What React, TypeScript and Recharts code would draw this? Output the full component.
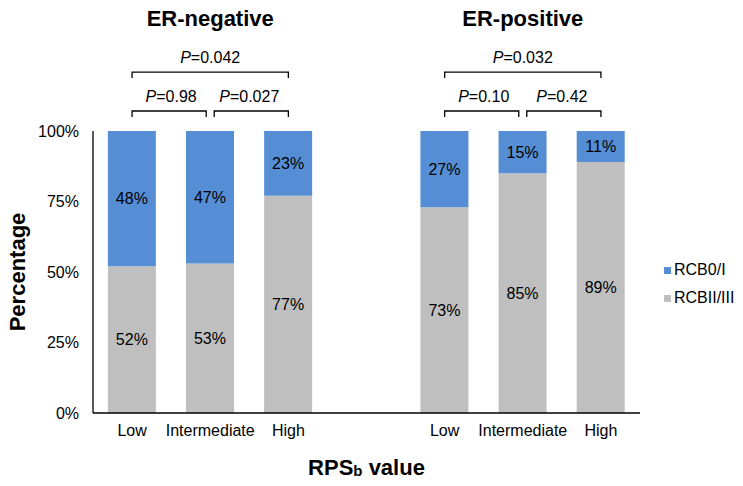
import React from 'react';
import { BarChart, Bar, XAxis, YAxis, LabelList, ReferenceLine } from 'recharts';

// categories (a blank slot separates the two ER groups)
const categories = ['neg-low', 'neg-int', 'neg-high', 'gap', 'pos-low', 'pos-int', 'pos-high'];
const tickLabels = ['Low', 'Intermediate', 'High', '', 'Low', 'Intermediate', 'High'];
const rcbHigh = [52, 53, 77, null, 73, 85, 89]; // RCBII/III
const rcbLow = [48, 47, 23, null, 27, 15, 11]; // RCB0/I
const yTicks = [0, 25, 50, 75, 100];

const groupTitles = ['ER-negative', 'ER-positive'];
const pUpper = ['0.042', '0.032'];
const pLowerLeft = ['0.98', '0.10'];
const pLowerRight = ['0.027', '0.42'];

const BLUE = '#558ED5';
const GREY = '#BFBFBF';
const FONT = '"Liberation Sans", Arial, sans-serif';

const rows = categories.map((c, i) => ({ cat: c, high: rcbHigh[i], low: rcbLow[i] }));

type Bracket = { from: string; to: string; y: number; p: string; title?: string; trimL: number; trimR: number };

const brackets: Bracket[] = [];
[0, 1].forEach(g => {
  const base = g === 0 ? 'neg' : 'pos';
  brackets.push({ from: `${base}-low`, to: `${base}-high`, y: 120.9, p: pUpper[g], title: groupTitles[g], trimL: 0, trimR: 0 });
  brackets.push({ from: `${base}-low`, to: `${base}-int`, y: 107.1, p: pLowerLeft[g], trimL: 0, trimR: 4 });
  brackets.push({ from: `${base}-int`, to: `${base}-high`, y: 107.1, p: pLowerRight[g], trimL: 4, trimR: 0 });
});

const bracketShape = (b: Bracket) => (props: any) => {
  const { x1, x2, y1 } = props;
  const left = x1 + b.trimL;
  const right = x2 - b.trimR;
  const mid = (x1 + x2) / 2;
  return (
    <g>
      <path d={`M${left},${y1 + 6}V${y1}H${right}V${y1 + 6}`} stroke="#000" strokeWidth={1.3} fill="none" />
      <text x={mid} y={y1 - 9} textAnchor="middle" fontSize={16} fill="#000" fontFamily={FONT}>
        <tspan fontStyle="italic">P</tspan>={b.p}
      </text>
      {b.title && (
        <text x={mid} y={y1 - 46} textAnchor="middle" fontSize={22} fontWeight="bold" fill="#000" fontFamily={FONT}>
          {b.title}
        </text>
      )}
    </g>
  );
};

const legendItems = [
  { name: 'RCB0/I', color: BLUE },
  { name: 'RCBII/III', color: GREY },
];

const App: React.FC = () => {
  return (
    <div style={{ position: 'absolute', left: 0, top: 0, width: 743, height: 486, background: '#fff', fontFamily: FONT }}>
      <BarChart width={743} height={486} data={rows} margin={{ top: 131, right: 103, bottom: 43, left: 33 }} barCategoryGap="19%">
        <XAxis
          dataKey="cat"
          tickFormatter={(v: string) => tickLabels[categories.indexOf(v)]}
          tickLine={false}
          tickMargin={6}
          interval={0}
          axisLine={{ stroke: '#000', strokeWidth: 1.3 }}
          tick={{ fill: '#000', fontSize: 16, fontFamily: FONT }}
          label={{
            content: (p: any) => {
              const vb = p.viewBox || { x: 93, y: 413, width: 547 };
              return (
                <text x={vb.x + vb.width / 2} y={vb.y + 62} textAnchor="middle" fontSize={22} fontWeight="bold" fill="#000" fontFamily={FONT}>
                  RPS<tspan fontSize={15} dy={1}>b</tspan><tspan dy={-1}> value</tspan>
                </text>
              );
            },
          }}
        />
        <YAxis
          width={60}
          domain={[0, 100]}
          ticks={yTicks}
          tickFormatter={(v: number) => `${v}%`}
          tickLine={false}
          tickMargin={8}
          axisLine={{ stroke: '#000', strokeWidth: 1.3 }}
          tick={{ fill: '#000', fontSize: 16, fontFamily: FONT }}
          label={{
            content: (p: any) => {
              const vb = p.viewBox || { y: 131, height: 282 };
              const cy = vb.y + vb.height / 2;
              return (
                <text x={25} y={cy} transform={`rotate(-90, 25, ${cy})`} textAnchor="middle" fontSize={22} fontWeight="bold" fill="#000" fontFamily={FONT}>
                  Percentage
                </text>
              );
            },
          }}
        />
        <Bar dataKey="high" stackId="a" fill={GREY} isAnimationActive={false}>
          <LabelList dataKey="high" position="center" formatter={(v: any) => (v == null ? '' : `${v}%`)} fill="#000" fontSize={16} fontFamily={FONT} />
        </Bar>
        <Bar dataKey="low" stackId="a" fill={BLUE} isAnimationActive={false}>
          <LabelList dataKey="low" position="center" formatter={(v: any) => (v == null ? '' : `${v}%`)} fill="#000" fontSize={16} fontFamily={FONT} />
        </Bar>
        {brackets.map((b, i) => (
          <ReferenceLine
            key={i}
            ifOverflow="visible"
            segment={[{ x: b.from, y: b.y }, { x: b.to, y: b.y }]}
            shape={bracketShape(b)}
          />
        ))}
      </BarChart>
      <div style={{ position: 'absolute', left: 664, top: 256 }}>
        {legendItems.map(it => (
          <div key={it.name} style={{ display: 'flex', alignItems: 'center', height: 28, fontSize: 16, color: '#000' }}>
            <span style={{ width: 7, height: 7, background: it.color, marginRight: 3 }} />
            {it.name}
          </div>
        ))}
      </div>
    </div>
  );
};

export default App;
